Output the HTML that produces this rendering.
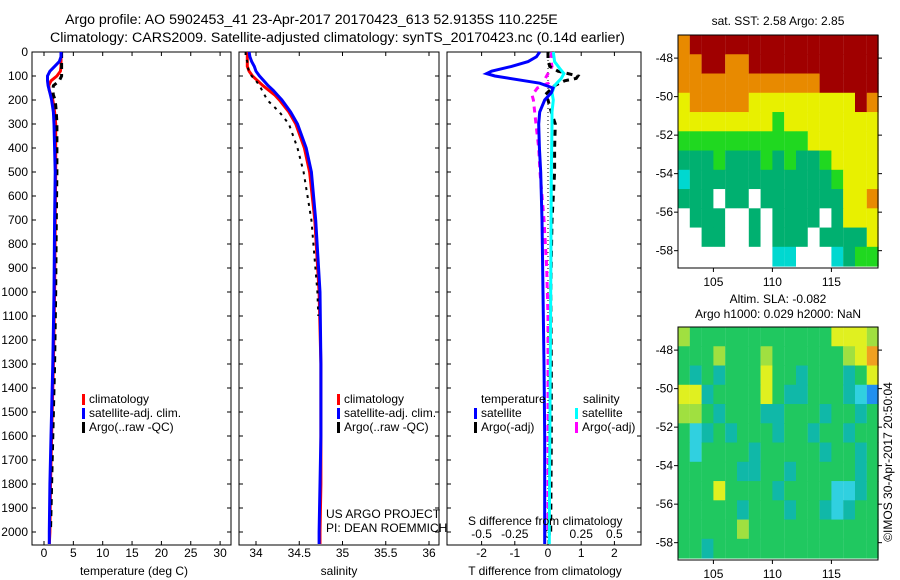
<!DOCTYPE html>
<html><head><meta charset="utf-8"><style>
body{margin:0;background:#fff;}
svg{display:block;font-family:"Liberation Sans",sans-serif;}
</style></head><body>
<svg id="c" width="900" height="580" viewBox="0 0 900 580">
<text x="65" y="24" font-size="14.2">Argo profile: AO 5902453_41 23-Apr-2017 20170423_613 52.9135S 110.225E</text>
<text x="50" y="42" font-size="14.2">Climatology: CARS2009. Satellite-adjusted climatology: synTS_20170423.nc (0.14d earlier)</text>
<g id="g"></g>
</svg>
<script>
// ---- data ----
const depthTicks=[0,100,200,300,400,500,600,700,800,900,1000,1100,1200,1300,1400,1500,1600,1700,1800,1900,2000];
const tTicks=[0,5,10,15,20,25,30];
const sTicks=[34,34.5,35,35.5,36];
const sTickLabels=["34","34.5","35","35.5","36"];
const dtTicks=[-2,-1,0,1,2];
const dsTicks=[-0.5,-0.25,0,0.25,0.5];
const dsTickLabels=["-0.5","-0.25","0","0.25","0.5"];
const depthA=[0,20,40,60,80,100,120,140,160,180,200,250,300,400,500,700,1000,1300,1600,1800,2000,2050];
const tempClim=[2.9,2.9,2.9,2.9,2.8,2.2,1.2,0.8,0.9,1.2,1.5,1.8,2.0,2.0,2.0,1.9,1.8,1.6,1.3,1.1,1.0,0.9];
const tempSat=[2.9,2.9,2.6,1.8,1.0,0.6,0.6,0.7,0.9,1.1,1.3,1.6,1.7,1.8,1.9,1.8,1.7,1.5,1.2,1.0,0.9,0.9];
const depthArgo=[0,20,40,60,80,100,120,140,160,180,200,250,300,400,500,700,1000,1300,1600,1800,2000];
const tempArgo=[3.0,3.0,3.0,3.0,3.0,3.0,2.6,1.6,1.5,1.6,1.9,2.1,2.2,2.2,2.2,2.1,2.0,1.8,1.5,1.3,1.1];
const salClim=[33.9,33.9,33.9,33.9,33.92,33.96,34.02,34.08,34.15,34.22,34.27,34.38,34.46,34.56,34.62,34.68,34.73,34.75,34.75,34.75,34.74,34.74];
const salSat=[33.92,33.93,33.95,33.98,34.0,34.04,34.09,34.14,34.2,34.25,34.3,34.4,34.48,34.58,34.64,34.69,34.74,34.75,34.75,34.74,34.73,34.73];
const depthSArgo=[0,20,40,60,80,100,120,140,160,180,200,250,300,400,500,700,1000,1100];
const salArgo=[33.88,33.88,33.9,33.9,33.92,33.95,34.0,34.04,34.07,34.1,34.13,34.27,34.38,34.48,34.55,34.64,34.71,34.72];
const depthDT=[0,20,40,60,80,90,100,120,130,150,170,200,250,300,400,500,700,1000,1300,1600,1800,2000,2050];
const dTsat=[-0.25,-0.35,-0.6,-1.1,-1.7,-1.85,-1.6,-0.7,-0.25,0.15,0.1,-0.1,-0.25,-0.28,-0.26,-0.22,-0.18,-0.15,-0.12,-0.1,-0.1,-0.1,-0.1];
const depthDTA=[0,30,60,80,100,110,120,140,160,180,200,250,300,400,500,700,1000,1300,1600,2000];
const dTargo=[0.0,0.0,0.05,0.3,0.9,0.85,0.5,0.2,0.05,-0.1,0.0,0.1,0.22,0.2,0.2,0.12,0.08,0.1,0.1,0.08];
const depthDS=[0,40,70,90,110,140,170,200,250,300,500,1000,1500,2000,2050];
const dSsat=[0.04,0.05,0.09,0.12,0.1,0.05,0.03,0.04,0.03,0.03,0.025,0.02,0.015,0.01,0.01];
const depthDSA=[0,30,60,90,110,130,150,180,200,250,300,400,500,700,900,1100,1500,2000];
const dSargo=[0.03,0.02,0.03,0.0,-0.02,0.0,-0.08,-0.12,-0.11,-0.1,-0.09,-0.07,-0.06,-0.03,-0.01,0.0,0.0,0.0];
const lonTicks=[105,110,115];
const latTicks=[-48,-50,-52,-54,-56,-58];
const sstRows=[
"ORRRRRRRRRRRRRRRR",
"OORROORRRRRRRRRRR",
"OOOOOOOOOOOORRRRR",
"YOOOOOYYYYYYYYYRO",
"YYYYYYYYGYYYYYYYY",
"GGGGGGGGGGGYYYYYY",
"TTTGTTTGTGTTGYYYY",
"CTTTTTTTTTTTTGYYY",
"TTTWTTWTTTTTTTYYO",
"WTTTWWTWTTTTWTYYY",
"WWTTWWTWTTTWTTTTY",
"WWWWWWWWCCWWWCTGG"];
const slaRows=[
"LGGGGGGGGGGGGYYYL",
"GGGLGGGLGGGGGGLYO",
"GTGTGGGYGGTGGGTGY",
"YYTGGGGYGTTGGGTCB",
"LLGTGGGTTGGGTGGTG",
"GCTGTGGGTGGTGGTGG",
"GCGGGGTGGGGGTGGTG",
"GGGGGTTGGTGGGGGTG",
"GGGYGGGGTGGGGCCTG",
"GGGGGTGGGTGGTCTGG",
"GGGGGLGGGGGGGGGGG",
"GGTGGGGGGGGGGGGGG"];
// ---- helpers ----
const NS="http://www.w3.org/2000/svg";const G=document.getElementById('g');
function mk(t,a,p){const e=document.createElementNS(NS,t);for(const k in a)e.setAttribute(k,a[k]);(p||G).appendChild(e);return e;}
function txt(x,y,s,a){const e=mk('text',Object.assign({x:x,y:y,'font-size':12},a||{}));e.textContent=s;return e;}
const Y=d=>52+d*0.24;
const xT=v=>44+v*5.87, xS=v=>256+(v-34)*86.5, xdT=v=>548+v*33.2, xdS=v=>548+v*132.8;
const panels=[[32,231],[239,439],[447,641]];
panels.forEach((p,i)=>{
 const r=mk('rect',{x:p[0],y:52,width:p[1]-p[0],height:493,fill:'none',stroke:'#000','stroke-width':1});
 
 
 depthTicks.forEach(d=>{mk('line',{x1:p[0],x2:p[0]+4,y1:Y(d),y2:Y(d),stroke:'#000'});mk('line',{x1:p[1]-4,x2:p[1],y1:Y(d),y2:Y(d),stroke:'#000'});});
});
depthTicks.forEach(d=>{const t=txt(28,Y(d)+4,String(d),{'text-anchor':'end'});
 
 });
function xticks(vals,labels,fx,p,ly){vals.forEach((v,i)=>{const x=fx(v);
 mk('line',{x1:x,x2:x,y1:52,y2:56,stroke:'#000'});mk('line',{x1:x,x2:x,y1:541,y2:545,stroke:'#000'});
 const t=txt(x,ly,labels[i],{'text-anchor':'middle'});
 
 });}
xticks(tTicks,tTicks.map(String),xT,panels[0],557);
xticks(sTicks,sTickLabels,xS,panels[1],557);
xticks(dtTicks,dtTicks.map(String),xdT,panels[2],557);
dsTicks.forEach((v,i)=>{const t=txt(xdS(v),538,dsTickLabels[i],{'text-anchor':'middle'});
 
 });
function line(ds,vs,fx,col,w,dash,name){const pts=ds.map((d,i)=>fx(vs[i]).toFixed(1)+','+Y(d).toFixed(1)).join(' ');
 const a={points:pts,fill:'none',stroke:col,'stroke-width':w};if(dash)a['stroke-dasharray']=dash;
 const e=mk('polyline',a);
 
 }
line(depthA,tempClim,xT,'#f00',3,null,'temp-climatology-line');
line(depthArgo,tempArgo,xT,'#000',3,'6,5','temp-argo-line');
line(depthA,tempSat,xT,'#00f',3,null,'temp-satellite-line');
line(depthA,salClim,xS,'#f00',3,null,'sal-climatology-line');
line(depthSArgo,salArgo,xS,'#000',2,'3,5','sal-argo-line');
line(depthA,salSat,xS,'#00f',3,null,'sal-satellite-line');
mk('line',{x1:548,x2:548,y1:52,y2:545,stroke:'#000','stroke-dasharray':'1,3'});
line(depthDSA,dSargo,xdS,'#f0f',3,'6,5','sdiff-argo-line');
line(depthDTA,dTargo,xdT,'#000',3,'6,5','tdiff-argo-line');
line(depthDS,dSsat,xdS,'#0ff',3,null,'sdiff-satellite-line');
line(depthDT,dTsat,xdT,'#00f',3,null,'tdiff-satellite-line');
function leg(x,y,col,s,name){mk('rect',{x:x,y:y-9,width:3,height:11,fill:col});const t=txt(x+7,y,s);
 
 }
leg(82,403,'#f00','climatology','legend-climatology');
leg(82,417,'#00f','satellite-adj. clim.','legend-satellite');
leg(82,431,'#000','Argo(..raw -QC)','legend-argo');
leg(337,403,'#f00','climatology','legend2-climatology');
leg(337,417,'#00f','satellite-adj. clim.','legend2-satellite');
leg(337,431,'#000','Argo(..raw -QC)','legend2-argo');
txt(481,403,'temperature');txt(583,403,'salinity');
leg(474,417,'#00f','satellite','legend3-t-satellite');
leg(474,431,'#000','Argo(-adj)','legend3-t-argo');
leg(575,417,'#0ff','satellite','legend3-s-satellite');
leg(575,431,'#f0f','Argo(-adj)','legend3-s-argo');
txt(326,518,'US ARGO PROJECT');txt(326,532,'PI: DEAN ROEMMICH');
txt(468,525,'S difference from climatology');
txt(134,575,'temperature (deg C)',{'text-anchor':'middle'});
txt(339,575,'salinity',{'text-anchor':'middle'});
txt(545,575,'T difference from climatology',{'text-anchor':'middle'});
// ---- maps ----
const sstCol={R:'#a00000',O:'#e88a00',Y:'#e8f000',L:'#a0e000',G:'#20d820',T:'#00b070',C:'#00d8d0',W:'#ffffff',N:'#000080'};
const slaCol={G:'#20c860',T:'#10b8a8',C:'#30d0e0',B:'#2090f0',L:'#a0e040',Y:'#e0f020',O:'#f0a020'};
function map(rows,cols,top,bot,name){
 const xL=v=>678+(v-102)*11.8, yL=v=>top+(-46.8-v)*(bot-top)/12.1;
 rows.forEach((r,ri)=>{for(let ci=0;ci<r.length;ci++){const lon=102+ci,lat=-46.8-ri;
  const e=mk('rect',{x:xL(lon),y:yL(lat),width:11.9,height:(bot-top)/12.1+0.5,fill:cols[r[ci]]});
  
  }});
 mk('rect',{x:678,y:top,width:200,height:bot-top,fill:'none',stroke:'#000'});
 lonTicks.forEach(v=>{mk('line',{x1:xL(v),x2:xL(v),y1:bot,y2:bot+4,stroke:'#000'});
  const t=txt(xL(v),bot+18,String(v),{'text-anchor':'middle'});
  
  });
 latTicks.forEach(v=>{mk('line',{x1:674,x2:678,y1:yL(v),y2:yL(v),stroke:'#000'});mk('line',{x1:878,x2:882,y1:yL(v),y2:yL(v),stroke:'#000'});
  const t=txt(673,yL(v)+4,String(v),{'text-anchor':'end'});
  
  });
}
map(sstRows,sstCol,35,268,'sst-map');
map(slaRows,slaCol,327,560,'sla-map');
txt(778,25,'sat. SST: 2.58 Argo: 2.85',{'text-anchor':'middle'});
txt(778,303,'Altim. SLA: -0.082',{'text-anchor':'middle'});
txt(778,318,'Argo h1000: 0.029 h2000: NaN',{'text-anchor':'middle'});
txt(0,0,'©IMOS 30-Apr-2017 20:50:04',{'text-anchor':'middle',transform:'translate(892,462) rotate(-90)'});
</script>
</body></html>
